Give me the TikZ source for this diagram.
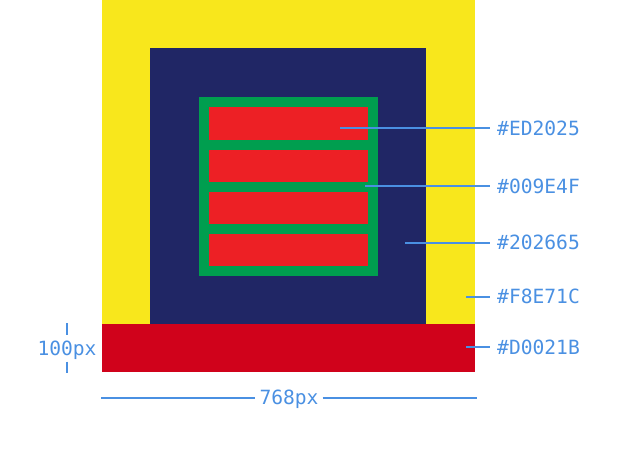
\documentclass[tikz,border=0pt]{standalone}
\usepackage{fontspec}
\setmonofont{DejaVu Sans Mono}
\definecolor{cyellow}{HTML}{F8E71C}
\definecolor{cbase}{HTML}{D0021B}
\definecolor{cnavy}{HTML}{202665}
\definecolor{cgreen}{HTML}{009E4F}
\definecolor{cred}{HTML}{ED2025}
\definecolor{cblue}{HTML}{4A90E2}
\tikzset{
  lab/.style={font=\ttfamily\fontsize{19.6}{20}\selectfont, text=cblue, inner xsep=7pt, inner ysep=0pt, text height=14.3pt, text depth=0pt},
  dimlab/.style={lab, inner xsep=4pt},
  lead/.style={draw=cblue, line width=2pt},
}
\begin{document}
\begin{tikzpicture}[x=1pt,y=-1pt]
\useasboundingbox (0,0) rectangle (618,452);
% shapes
\fill[cyellow] (102,0) rectangle (475,324);
\fill[cbase] (102,324) rectangle (475,372);
\fill[cnavy] (150,48) rectangle (426,324);
\fill[cgreen] (199,97) rectangle (378,276);
\fill[cred] (209,107) rectangle (368,139.5);
\fill[cred] (209,149.5) rectangle (368,181.5);
\fill[cred] (209,191.5) rectangle (368,224);
\fill[cred] (209,234) rectangle (368,266);
% leader start points
\coordinate (p1) at (340,128);
\coordinate (p2) at (365,186);
\coordinate (p3) at (405,242.5);
\coordinate (p4) at (466,296.5);
\coordinate (p5) at (466,347);
% labels
\node[lab, anchor=west] (l1) at (490,128) {\#ED2025};
\node[lab, anchor=west] (l2) at (490,186) {\#009E4F};
\node[lab, anchor=west] (l3) at (490,242.5) {\#202665};
\node[lab, anchor=west] (l4) at (490,296.5) {\#F8E71C};
\node[lab, anchor=west] (l5) at (490,347) {\#D0021B};
\draw[lead] (p1) -- (l1.west);
\draw[lead] (p2) -- (l2.west);
\draw[lead] (p3) -- (l3.west);
\draw[lead] (p4) -- (l4.west);
\draw[lead] (p5) -- (l5.west);
% width dimension
\coordinate (wl) at (101,397.5);
\coordinate (wr) at (477,397.5);
\node[dimlab] (wt) at (289,397.5) {768px};
\draw[lead] (wl) -- (wt.west);
\draw[lead] (wt.east) -- (wr);
% height dimension
\coordinate (ht) at (67,323);
\coordinate (hb) at (67,373);
\node[dimlab, inner xsep=0pt, inner ysep=0pt] (hl) at (67,348) {100px};
\draw[lead] (ht) -- (67,335);
\draw[lead] (67,361.5) -- (hb);
\end{tikzpicture}
\end{document}
